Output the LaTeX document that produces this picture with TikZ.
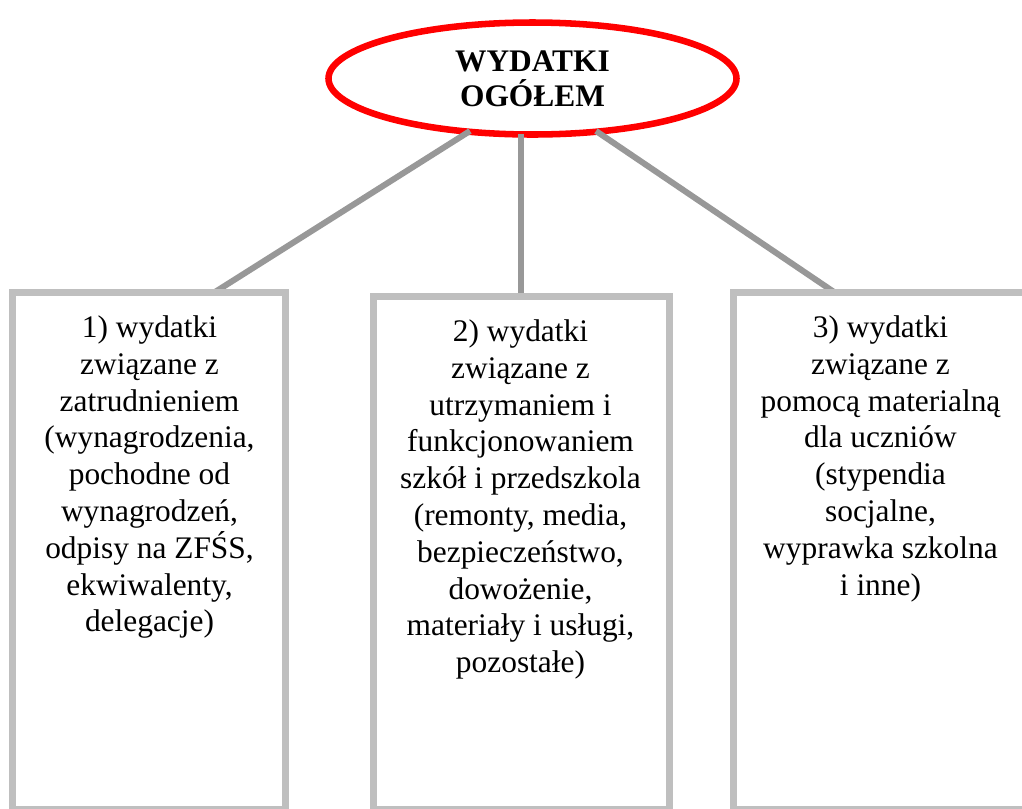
\documentclass[tikz,border=0pt]{standalone}
\usepackage{fontspec}
\setmainfont{Liberation Serif}
\usetikzlibrary{shapes.geometric,fit}
\definecolor{boxgray}{HTML}{BFBFBF}
\definecolor{conngray}{HTML}{989898}
\definecolor{ovalred}{HTML}{FF0000}
\begin{document}
\begin{tikzpicture}[x=0.75pt,y=-0.75pt,
  boxframe/.style={draw=boxgray, line width=5.25pt, inner sep=0pt, outer sep=0pt},
  conn/.style={draw=conngray, line width=4.5pt},
  oval/.style={ellipse, draw=ovalred, line width=4.9pt, minimum width=306pt, minimum height=84pt, inner sep=0pt, align=center,
    font=\fontsize{23.55pt}{26.25pt}\selectfont\bfseries},
  boxtext/.style={anchor=north, inner sep=0pt, align=center, font=\fontsize{23.55pt}{27.6pt}\selectfont}]
\path[use as bounding box] (0,0) rectangle (1022,808);
\begin{scope}
\clip (0,0) rectangle (1022,808);
\node[oval] (top) at (532.5,78.5) {WYDATKI\\OGÓŁEM};
\coordinate (s1) at (470,131);
\coordinate (s2) at (521,134);
\coordinate (s3) at (596,131);
\coordinate (e1) at (215,292);
\coordinate (e2) at (521,296);
\coordinate (e3) at (834,292);
\draw[conn] (s1) -- (e1);
\draw[conn] (s2) -- (e2);
\draw[conn] (s3) -- (e3);
\node[boxframe, fit={(12,292.5) (285.5,809.5)}] (b1) {};
\node[boxframe, fit={(373,296.5) (669.5,809.5)}] (b2) {};
\node[boxframe, fit={(733,292.5) (1035,809.5)}] (b3) {};
\node[boxtext] (t1) at (149.5,315.5) {1) wydatki\\związane z\\zatrudnieniem\\(wynagrodzenia,\\pochodne od\\wynagrodzeń,\\odpisy na ZFŚS,\\ekwiwalenty,\\delegacje)};
\node[boxtext] (t2) at (520.5,319.5) {2) wydatki\\związane z\\utrzymaniem i\\funkcjonowaniem\\szkół i przedszkola\\(remonty, media,\\bezpieczeństwo,\\dowożenie,\\materiały i usługi,\\pozostałe)};
\node[boxtext] (t3) at (880.5,315.5) {3) wydatki\\związane z\\pomocą materialną\\dla uczniów\\(stypendia\\socjalne,\\wyprawka szkolna\\i inne)};
\end{scope}
\end{tikzpicture}
\end{document}
